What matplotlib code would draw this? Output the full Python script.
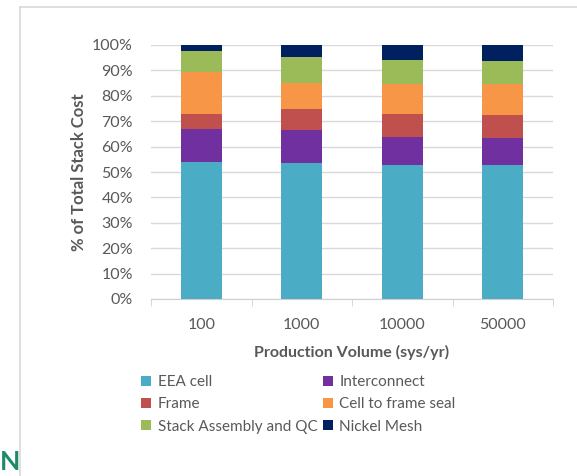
import matplotlib.pyplot as plt
import numpy as np
from matplotlib.lines import Line2D

plt.rcParams['font.family'] = ['Lato', 'DejaVu Sans']

volumes = ['100', '1000', '10000', '50000']
components = ['EEA cell', 'Interconnect', 'Frame', 'Cell to frame seal',
              'Stack Assembly and QC', 'Nickel Mesh']
eea_cell = [54.1, 53.5, 52.6, 52.6]
interconnect = [12.8, 12.9, 11.0, 10.7]
frame = [5.9, 8.3, 9.2, 9.0]
seal = [16.6, 10.5, 12.0, 12.5]
stack_qc = [8.1, 10.1, 9.2, 9.0]
nickel_mesh = [2.5, 4.7, 6.0, 6.2]

series = [eea_cell, interconnect, frame, seal, stack_qc, nickel_mesh]
colors = ['#4BACC6', '#7030A0', '#C0504D', '#F79646', '#9BBB59', '#002060']

W, H = 577, 476
fig = plt.figure(figsize=(W / 100, H / 100), dpi=100)
ax = fig.add_axes([151 / W, 1 - 299 / H, (553 - 151) / W, (299 - 45) / H])

x = np.arange(len(volumes))
bottom = np.zeros(len(volumes))
for vals, c in zip(series, colors):
    ax.bar(x, vals, 0.41, bottom=bottom, color=c, linewidth=0, zorder=3)
    bottom += np.array(vals)

ax.set_xlim(-0.5, len(volumes) - 0.5)
ax.set_ylim(0, 100)
ax.set_yticks(np.arange(0, 101, 10))
ax.set_yticklabels([f'{v}%' for v in range(0, 101, 10)])
ax.yaxis.grid(True, color='#d9d9d9', linewidth=1, zorder=0)
ax.set_axisbelow(True)
for s in ['top', 'right', 'left']:
    ax.spines[s].set_visible(False)
ax.spines['bottom'].set_color('#d0d0d0')
ax.tick_params(axis='y', length=0, pad=13, labelsize=11.5, labelcolor='#595959')
ax.set_xticks(x)
ax.set_xticklabels(volumes)
ax.set_xticks(np.arange(-0.5, len(volumes)), minor=True)
ax.tick_params(axis='x', which='major', length=0, pad=14, labelsize=11.5, labelcolor='#595959')
ax.tick_params(axis='x', which='minor', length=5, color='#d0d0d0')
ax.set_xlabel('Production Volume (sys/yr)', fontsize=11.5, fontweight='bold',
              color='#595959', labelpad=9)
ax.set_ylabel('% of Total Stack Cost', fontsize=12, fontweight='bold',
              color='#595959', labelpad=4)

# legend, filled row by row
order = [0, 2, 4, 1, 3, 5]
handles = [Line2D([], [], marker='s', linestyle='', markersize=7.5,
                  markerfacecolor=colors[i], markeredgewidth=0) for i in order]
fig.legend(handles, [components[i] for i in order], ncol=2,
           loc='upper left', bbox_to_anchor=(140 / W, 1 - 375 / H),
           frameon=False, fontsize=11, labelcolor='#595959',
           handlelength=0.8, handletextpad=0.35, columnspacing=0.3,
           labelspacing=0.55, borderaxespad=0, borderpad=0)

# slide border and logo fragment
fig.add_artist(Line2D([20 / W, 20 / W], [0, 1 - 7 / H], color='#d9d9d9', lw=1.2))
fig.add_artist(Line2D([20 / W, 1], [1 - 7 / H, 1 - 7 / H], color='#d9d9d9', lw=1.2))
fig.text(0, 1 - 470 / H, 'N', color='#1e8a6a', fontsize=19, fontweight='bold')

fig.savefig('out.png', dpi=100)
